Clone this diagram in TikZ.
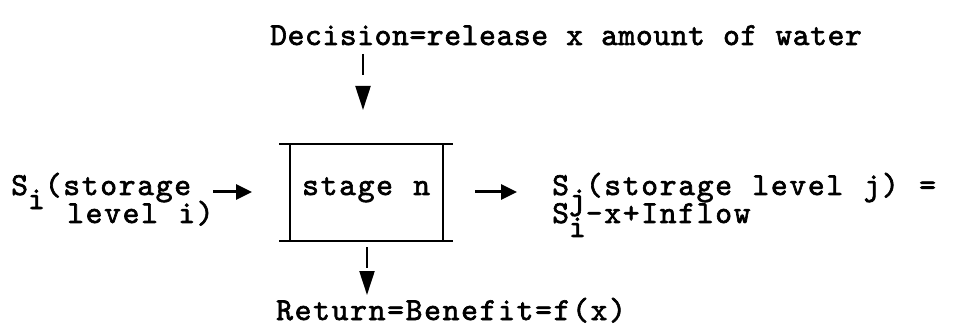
\documentclass[tikz,border=0pt]{standalone}
\usepackage{fontspec}
% typewriter face, spaced out to a fixed pitch
\newfontfamily\tw{lmmono10-regular.otf}[FakeBold=2, LetterSpace=5.3, WordSpace=1.1]
\newfontfamily\twn{lmmono10-regular.otf}[FakeBold=2, LetterSpace=1.9, WordSpace=1.04]
\usetikzlibrary{arrows.meta}
% half-line drop used for the typed subscripts
\newcommand{\lowered}[1]{\raisebox{-14pt}[0pt][0pt]{#1}}
% two typed lines, the second one indented
\newcommand{\twolines}[3]{\vtop{\baselineskip=28pt\lineskiplimit=-50pt
  \hbox{#1}\hbox{\hspace*{#2}#3}}}
\begin{document}
\begin{tikzpicture}[x=1pt,y=-1pt,
  lbl/.style={font=\tw\fontsize{32}{32}\selectfont, inner sep=0pt, anchor=base west},
  lbln/.style={lbl, font=\twn\fontsize{32}{32}\selectfont},
  rule/.style={line width=2.4pt},
  flow/.style={line width=3pt, -{Triangle[length=16pt,width=15pt]}},
  drop/.style={line width=2.2pt, dash pattern=on 21pt off 200pt, -{Triangle[length=24pt,width=15pt]}}]
\fill[white] (0,0) rectangle (955,331);
\useasboundingbox (0,0) rectangle (955,331);

% stage box: sides inset from the ruled top and bottom
\coordinate (tl) at (279,144);
\coordinate (tr) at (453,144);
\coordinate (bl) at (279,241);
\coordinate (br) at (453,241);
\draw[rule] (tl) -- (tr);
\draw[rule] (bl) -- (br);
\draw[rule] (290,144) -- (290,241);
\draw[rule] (443,144) -- (443,241);
\node[lbl] (stage) at (302,195) {stage n};
\coordinate (boxW) at (252,192);
\coordinate (boxE) at (475,192);

% decision
\node[lbln] (dec) at (270,45) {Decision=release x amount of water};
\coordinate (decFoot) at (363,54);
\coordinate (boxTop) at (363,110);
\draw[drop] (decFoot) -- (boxTop);

% return
\coordinate (boxFoot) at (367,247);
\coordinate (retTop) at (367,295);
\draw[drop] (boxFoot) -- (retTop);
\node[lbl] (ret) at (276,320) {Return=Benefit=f(x)};

% incoming storage
\node[lbl] (in) at (11,195)
  {\twolines{S\lowered{i}(storage}{56pt}{level i)}};
\coordinate (inEnd) at (213,192);
\draw[flow] (inEnd) -- (boxW);

% outgoing storage
\node[lbl] (out) at (552,195)
  {\twolines{S\lowered{j}(storage level j) =}{0pt}{S\lowered{i}-x+Inflow}};
\coordinate (outEnd) at (517,192);
\draw[flow] (boxE) -- (outEnd);
\end{tikzpicture}
\end{document}
